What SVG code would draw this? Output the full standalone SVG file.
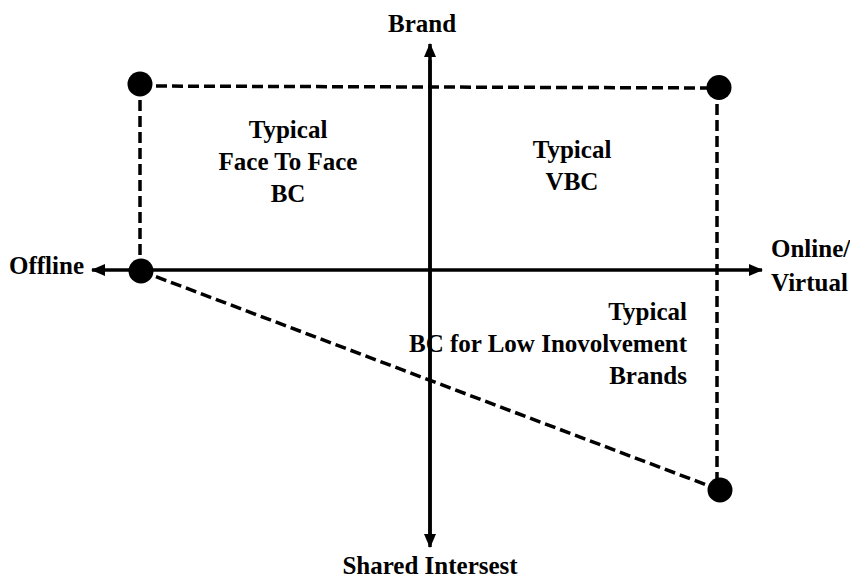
<svg xmlns="http://www.w3.org/2000/svg" width="850" height="578" viewBox="0 0 850 578">
<style>
text{font-family:"Liberation Serif","Times New Roman",serif;font-weight:bold;font-size:25px;fill:#000}
.axis{stroke:#000;stroke-width:3.5;fill:none}
.dash{stroke:#000;stroke-width:3.5;stroke-dasharray:11 5;fill:none}
.dot{fill:#000}
</style>
<defs>
<marker id="arr" markerUnits="userSpaceOnUse" markerWidth="14" markerHeight="14" viewBox="0 0 14 14" refX="13" refY="7" orient="auto">
<path d="M0,1 L14,7 L0,13 Z" fill="#000"/>
</marker>
</defs>
<g id="connectors">
<line class="axis" x1="430" y1="540" x2="430" y2="44" marker-end="url(#arr)"/>
<line class="axis" x1="430" y1="60" x2="430" y2="547" marker-end="url(#arr)"/>
<line class="axis" x1="430" y1="270" x2="92" y2="270" marker-end="url(#arr)"/>
<line class="axis" x1="430" y1="270" x2="762" y2="270" marker-end="url(#arr)"/>
<line class="dash" x1="140" y1="86" x2="719" y2="88"/>
<line class="dash" x1="140" y1="84" x2="140" y2="271"/>
<line class="dash" x1="717" y1="88" x2="717" y2="490"/>
<line class="dash" x1="141" y1="271" x2="720" y2="490"/>
</g>
<g id="node-topleft"><circle class="dot" cx="140" cy="84" r="12.5"/></g>
<g id="node-topright"><circle class="dot" cx="719" cy="87.5" r="12.5"/></g>
<g id="node-left"><circle class="dot" cx="141" cy="271" r="12.5"/></g>
<g id="node-bottomright"><circle class="dot" cx="720" cy="490" r="12.5"/></g>
<g id="label-brand"><text x="422" y="32" text-anchor="middle">Brand</text></g>
<g id="label-offline"><text x="9" y="274">Offline</text></g>
<g id="label-online"><text x="771" y="257">Online/</text><text x="771" y="291">Virtual</text></g>
<g id="label-shared"><text x="430" y="574" text-anchor="middle">Shared Intersest</text></g>
<g id="label-f2f" text-anchor="middle"><text x="288" y="138">Typical</text><text x="288" y="170">Face To Face</text><text x="288" y="202">BC</text></g>
<g id="label-vbc" text-anchor="middle"><text x="572" y="158">Typical</text><text x="572" y="190">VBC</text></g>
<g id="label-low" text-anchor="end"><text x="687" y="320">Typical</text><text x="687" y="352">BC for Low Inovolvement</text><text x="687" y="384">Brands</text></g>
</svg>
